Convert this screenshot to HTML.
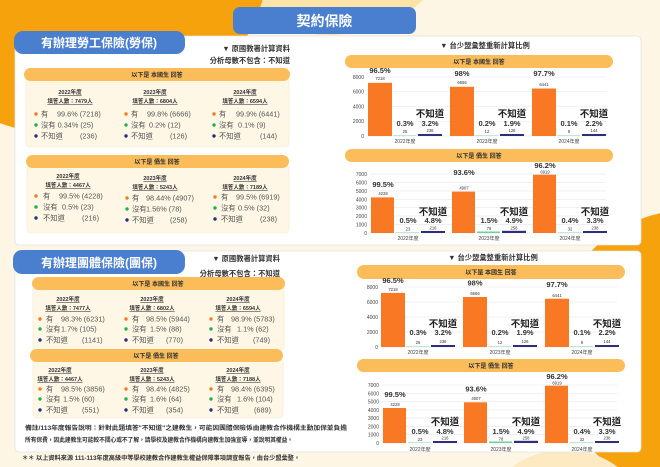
<!DOCTYPE html>
<html><head><meta charset="utf-8"><style>
html,body{margin:0;padding:0;background:#fdf6e4;width:660px;height:467px;overflow:hidden;}
svg{display:block;vertical-align:top;font-family:"Liberation Sans","Noto Sans CJK TC",sans-serif;}
.h{font-size:6px;font-weight:bold;fill:#333;text-anchor:middle}
.yr{font-size:5.5px;font-weight:bold;fill:#333;text-anchor:middle;text-decoration:underline}
.r{font-size:7.3px;fill:#555}
.ax{font-size:5px;fill:#444;text-anchor:end}
.pc{font-size:7.5px;font-weight:bold;fill:#333;text-anchor:middle}
.bd{font-size:9.5px;font-weight:bold;fill:#222;text-anchor:middle}
.ct{font-size:4.2px;fill:#333;text-anchor:middle}
.xl{font-size:5px;fill:#444;text-anchor:middle}
.o{fill:#f97824}.g{fill:#bfe8cf}.n{fill:#2e2f7c}
.gl{stroke:#e6e6ec;stroke-width:0.6}
</style></head><body>
<svg width="660" height="467" viewBox="0 0 660 467" xmlns="http://www.w3.org/2000/svg">
<rect width="660" height="467" fill="#fdf6e4"/>
<path d="M237,0 A120,95 0 0 0 423,0 Z" fill="#fde3a8"/>
<path d="M0,0 L262.6,0 A200,185 0 0 1 0,123.3 Z" fill="#f5a20c"/>
<path d="M660,213.3 A140,140 0 0 0 613.1,467 L660,467 Z" fill="#f5a20c"/>
<path d="M512.4,467 A70,50 0 0 1 617.6,467 Z" fill="#fde9c2"/>

<rect x="15" y="36" width="626" height="209" rx="4" fill="#fff" stroke="#e3e3e3" stroke-width="0.8"/>
<rect x="15" y="251" width="626" height="201" rx="4" fill="#fff" stroke="#e3e3e3" stroke-width="0.8"/>

<rect x="233" y="7" width="183" height="27" rx="7" fill="#4a7fd0"/>
<text x="324.5" y="26" font-size="14" font-weight="bold" fill="#fff" text-anchor="middle">契約保險</text>

<rect x="14" y="31" width="171" height="23" rx="9" fill="#4a7fd0"/>
<text x="99" y="47" font-size="12" font-weight="bold" fill="#fff" text-anchor="middle">有辦理勞工保險(勞保)</text>
<text x="290" y="51" font-size="7.3" font-weight="bold" fill="#333" text-anchor="end">▼ 原國教署計算資料</text>
<text x="290" y="63" font-size="7.3" font-weight="bold" fill="#333" text-anchor="end">分析母數不包含：不知道</text>

<rect x="26" y="78" width="263" height="69" rx="4" fill="#fef7e6" stroke="#f6ead0" stroke-width="0.6"/>
<rect x="24" y="68" width="266" height="13" rx="6.5" fill="#fbbd5a"/>
<text x="157" y="77" class="h">以下是 本國生 回答</text>
<g>
<text x="70" y="94" class="yr">2022年度</text><text x="70" y="103" class="yr">填答人數：7479人</text>
<text x="155" y="94" class="yr">2023年度</text><text x="155" y="103" class="yr">填答人數：6804人</text>
<text x="245" y="94" class="yr">2024年度</text><text x="245" y="103" class="yr">填答人數：6594人</text>
</g>
<g>
<circle cx="36" cy="114" r="1.7" fill="#f47b20"/><text x="41" y="116.5" class="r">有</text><text x="57" y="116.5" class="r">99.6% (7218)</text>
<circle cx="36" cy="125" r="1.7" fill="#22b14c"/><text x="41" y="127.5" class="r">沒有 0.34% (25)</text>
<circle cx="36" cy="136" r="1.7" fill="#2b2d7c"/><text x="41" y="138.5" class="r">不知道</text><text x="80" y="138.5" class="r">(236)</text>
<circle cx="126" cy="114" r="1.7" fill="#f47b20"/><text x="131" y="116.5" class="r">有</text><text x="147" y="116.5" class="r">99.8% (6666)</text>
<circle cx="126" cy="125" r="1.7" fill="#22b14c"/><text x="131" y="127.5" class="r">沒有</text><text x="149" y="127.5" class="r">0.2% (12)</text>
<circle cx="126" cy="136" r="1.7" fill="#2b2d7c"/><text x="131" y="138.5" class="r">不知道</text><text x="170" y="138.5" class="r">(126)</text>
<circle cx="214" cy="114" r="1.7" fill="#f47b20"/><text x="219" y="116.5" class="r">有</text><text x="236" y="116.5" class="r">99.9% (6441)</text>
<circle cx="214" cy="125" r="1.7" fill="#22b14c"/><text x="219" y="127.5" class="r">沒有</text><text x="238" y="127.5" class="r">0.1% (9)</text>
<circle cx="214" cy="136" r="1.7" fill="#2b2d7c"/><text x="219" y="138.5" class="r">不知道</text><text x="260" y="138.5" class="r">(144)</text>
</g>

<rect x="27" y="165" width="262" height="68" rx="4" fill="#fef7e6" stroke="#f6ead0" stroke-width="0.6"/>
<rect x="26" y="155" width="263" height="13" rx="6.5" fill="#fbbd5a"/>
<text x="157" y="164" class="h">以下是 僑生 回答</text>
<text x="68" y="178" class="yr">2022年度</text><text x="68" y="187" class="yr">填答人數：4467人</text>
<text x="155" y="180" class="yr">2023年度</text><text x="155" y="189" class="yr">填答人數：5243人</text>
<text x="245" y="180" class="yr">2024年度</text><text x="245" y="189" class="yr">填答人數：7189人</text>
<g>
<circle cx="36" cy="196" r="1.7" fill="#f47b20"/><text x="43" y="198.5" class="r">有</text><text x="59" y="198.5" class="r">99.5% (4228)</text>
<circle cx="36" cy="207" r="1.7" fill="#22b14c"/><text x="43" y="209.5" class="r">沒有</text><text x="62" y="209.5" class="r">0.5% (23)</text>
<circle cx="36" cy="218" r="1.7" fill="#2b2d7c"/><text x="43" y="220.5" class="r">不知道</text><text x="82" y="220.5" class="r">(216)</text>
<circle cx="127" cy="198" r="1.7" fill="#f47b20"/><text x="132" y="200.5" class="r">有</text><text x="146" y="200.5" class="r">98.44% (4907)</text>
<circle cx="127" cy="209" r="1.7" fill="#22b14c"/><text x="132" y="211.5" class="r">沒有</text><text x="146" y="211.5" class="r">1.56% (78)</text>
<circle cx="127" cy="220" r="1.7" fill="#2b2d7c"/><text x="132" y="222.5" class="r">不知道</text><text x="170" y="222.5" class="r">(258)</text>
<circle cx="215" cy="197" r="1.7" fill="#f47b20"/><text x="221" y="199.5" class="r">有</text><text x="236" y="199.5" class="r">99.5% (6919)</text>
<circle cx="215" cy="208" r="1.7" fill="#22b14c"/><text x="221" y="210.5" class="r">沒有</text><text x="238" y="210.5" class="r">0.5% (32)</text>
<circle cx="215" cy="219" r="1.7" fill="#2b2d7c"/><text x="221" y="221.5" class="r">不知道</text><text x="260" y="221.5" class="r">(238)</text>
</g>

<text x="485" y="48" font-size="7.3" font-weight="bold" fill="#333" text-anchor="middle">▼ 台少盟彙整重新計算比例</text>
<rect x="345" y="55" width="268" height="13" rx="6.5" fill="#fbbd5a"/>
<text x="479" y="64" class="h">以下是 本國生 回答</text>
<line class="gl" x1="368" y1="77" x2="606" y2="77"/><line class="gl" x1="368" y1="91.75" x2="606" y2="91.75"/><line class="gl" x1="368" y1="106.5" x2="606" y2="106.5"/><line class="gl" x1="368" y1="121.25" x2="606" y2="121.25"/><line class="gl" x1="368" y1="136" x2="606" y2="136"/>
<text x="364" y="79" class="ax">8000</text><text x="364" y="93.5" class="ax">6000</text><text x="364" y="108.5" class="ax">4000</text><text x="364" y="123" class="ax">2000</text><text x="364" y="138" class="ax">0</text>
<g transform="translate(368,0)">
<rect class="o" x="0" y="82.8" width="24" height="53.2"/><rect class="g" x="25" y="135" width="23" height="1"/><rect class="n" x="50" y="134" width="24" height="2"/>
<text class="pc" x="12" y="73">96.5%</text><text class="ct" x="12" y="80">7218</text>
<text class="pc" x="37" y="126">0.3%</text><text class="bd" x="62" y="117">不知道</text><text class="pc" x="62" y="126">3.2%</text>
<text class="ct" x="37" y="133">25</text><text class="ct" x="62" y="132">236</text><text class="xl" x="37" y="143">2022年度</text></g>
<g transform="translate(450,0)">
<rect class="o" x="0" y="86.8" width="24" height="49.2"/><rect class="g" x="25" y="135" width="23" height="1"/><rect class="n" x="50" y="134" width="24" height="2"/>
<text class="pc" x="12" y="76">98%</text><text class="ct" x="12" y="84">6666</text>
<text class="pc" x="37" y="126">0.2%</text><text class="bd" x="62" y="117">不知道</text><text class="pc" x="62" y="126">1.9%</text>
<text class="ct" x="37" y="133">12</text><text class="ct" x="62" y="132">126</text><text class="xl" x="37" y="143">2023年度</text></g>
<g transform="translate(532,0)">
<rect class="o" x="0" y="88.5" width="24" height="47.5"/><rect class="g" x="25" y="135" width="23" height="1"/><rect class="n" x="50" y="134" width="24" height="2"/>
<text class="pc" x="12" y="76">97.7%</text><text class="ct" x="12" y="86">6441</text>
<text class="pc" x="37" y="126">0.1%</text><text class="bd" x="62" y="117">不知道</text><text class="pc" x="62" y="126">2.2%</text>
<text class="ct" x="37" y="133">9</text><text class="ct" x="62" y="132">144</text><text class="xl" x="37" y="143">2024年度</text></g>

<rect x="345" y="149" width="268" height="13" rx="6.5" fill="#fbbd5a"/>
<text x="479" y="158" class="h">以下是 僑生 回答</text>
<line class="gl" x1="370" y1="174" x2="606" y2="174"/><line class="gl" x1="370" y1="182.4" x2="606" y2="182.4"/><line class="gl" x1="370" y1="190.9" x2="606" y2="190.9"/><line class="gl" x1="370" y1="199.3" x2="606" y2="199.3"/><line class="gl" x1="370" y1="207.7" x2="606" y2="207.7"/><line class="gl" x1="370" y1="216.1" x2="606" y2="216.1"/><line class="gl" x1="370" y1="224.6" x2="606" y2="224.6"/><line class="gl" x1="370" y1="233" x2="606" y2="233"/>
<text x="367" y="176" class="ax">7000</text><text x="367" y="184.4" class="ax">6000</text><text x="367" y="192.9" class="ax">5000</text><text x="367" y="201.3" class="ax">4000</text><text x="367" y="209.7" class="ax">3000</text><text x="367" y="218.1" class="ax">2000</text><text x="367" y="226.6" class="ax">1000</text><text x="367" y="235" class="ax">0</text>
<g transform="translate(371,0)">
<rect class="o" x="0" y="197.4" width="23" height="35.6"/><rect class="g" x="25" y="232" width="23" height="1"/><rect class="n" x="50" y="231" width="24" height="2"/>
<text class="pc" x="12" y="187">99.5%</text><text class="ct" x="12" y="195">4228</text>
<text class="pc" x="37" y="223">0.5%</text><text class="bd" x="62" y="215">不知道</text><text class="pc" x="62" y="223">4.8%</text>
<text class="ct" x="37" y="230.5">23</text><text class="ct" x="62" y="229.5">216</text><text class="xl" x="37" y="240">2022年度</text></g>
<g transform="translate(452,0)">
<rect class="o" x="0" y="191.6" width="23" height="41.4"/><rect fill="#6fd09a" x="25" y="231.5" width="23" height="1.5"/><rect class="n" x="50" y="230.8" width="24" height="2.2"/>
<text class="pc" x="12" y="175">93.6%</text><text class="ct" x="12" y="189.5">4907</text>
<text class="pc" x="37" y="223">1.5%</text><text class="bd" x="62" y="215">不知道</text><text class="pc" x="62" y="223">4.9%</text>
<text class="ct" x="37" y="230">78</text><text class="ct" x="62" y="229.5">258</text><text class="xl" x="37" y="240">2023年度</text></g>
<g transform="translate(533,0)">
<rect class="o" x="0" y="174.7" width="23" height="58.3"/><rect class="g" x="25" y="232" width="23" height="1"/><rect class="n" x="50" y="231" width="24" height="2"/>
<text class="pc" x="12" y="168">96.2%</text><text class="ct" x="12" y="173.5">6919</text>
<text class="pc" x="37" y="223">0.4%</text><text class="bd" x="62" y="215">不知道</text><text class="pc" x="62" y="223">3.3%</text>
<text class="ct" x="37" y="230.5">32</text><text class="ct" x="62" y="229.5">238</text><text class="xl" x="37" y="240">2024年度</text></g>

<rect x="13" y="250" width="172" height="24" rx="9" fill="#4a7fd0"/>
<text x="99" y="267" font-size="12" font-weight="bold" fill="#fff" text-anchor="middle">有辦理團體保險(團保)</text>
<text x="280" y="261" font-size="7.3" font-weight="bold" fill="#333" text-anchor="end">▼ 原國教署計算資料</text>
<text x="280" y="276" font-size="7.3" font-weight="bold" fill="#333" text-anchor="end">分析母數不包含：不知道</text>

<rect x="33" y="286" width="251" height="65" rx="4" fill="#fef7e6" stroke="#f6ead0" stroke-width="0.6"/>
<rect x="32" y="277" width="253" height="13" rx="6.5" fill="#fbbd5a"/>
<text x="158" y="286" class="h">以下是 本國生 回答</text>
<text x="68" y="301" class="yr">2022年度</text><text x="68" y="310" class="yr">填答人數：7477人</text>
<text x="152" y="301" class="yr">2023年度</text><text x="152" y="310" class="yr">填答人數：6802人</text>
<text x="238" y="301" class="yr">2024年度</text><text x="238" y="310" class="yr">填答人數：6594人</text>
<g>
<circle cx="40" cy="319" r="1.7" fill="#f47b20"/><text x="46" y="321.5" class="r">有</text><text x="61" y="321.5" class="r">98.3% (6231)</text>
<circle cx="40" cy="329" r="1.7" fill="#22b14c"/><text x="46" y="331.5" class="r">沒有</text><text x="61" y="331.5" class="r">1.7% (105)</text>
<circle cx="40" cy="340" r="1.7" fill="#2b2d7c"/><text x="46" y="342.5" class="r">不知道</text><text x="82" y="342.5" class="r">(1141)</text>
<circle cx="126" cy="319" r="1.7" fill="#f47b20"/><text x="132" y="321.5" class="r">有</text><text x="146" y="321.5" class="r">98.5% (5944)</text>
<circle cx="126" cy="329" r="1.7" fill="#22b14c"/><text x="132" y="331.5" class="r">沒有</text><text x="150" y="331.5" class="r">1.5% (88)</text>
<circle cx="126" cy="340" r="1.7" fill="#2b2d7c"/><text x="132" y="342.5" class="r">不知道</text><text x="166" y="342.5" class="r">(770)</text>
<circle cx="211" cy="319" r="1.7" fill="#f47b20"/><text x="217" y="321.5" class="r">有</text><text x="231" y="321.5" class="r">98.9% (5783)</text>
<circle cx="211" cy="329" r="1.7" fill="#22b14c"/><text x="217" y="331.5" class="r">沒有</text><text x="237" y="331.5" class="r">1.1% (62)</text>
<circle cx="211" cy="340" r="1.7" fill="#2b2d7c"/><text x="217" y="342.5" class="r">不知道</text><text x="253" y="342.5" class="r">(749)</text>
</g>

<rect x="33" y="358" width="250" height="60" rx="4" fill="#fef7e6" stroke="#f6ead0" stroke-width="0.6"/>
<rect x="30" y="349" width="253" height="13" rx="6.5" fill="#fbbd5a"/>
<text x="156" y="358" class="h">以下是 僑生 回答</text>
<text x="60" y="372" class="yr">2022年度</text><text x="60" y="381" class="yr">填答人數：4467人</text>
<text x="152" y="372" class="yr">2023年度</text><text x="152" y="381" class="yr">填答人數：5243人</text>
<text x="238" y="372" class="yr">2024年度</text><text x="238" y="381" class="yr">填答人數：7188人</text>
<g>
<circle cx="40" cy="389" r="1.7" fill="#f47b20"/><text x="46" y="391.5" class="r">有</text><text x="61" y="391.5" class="r">98.5% (3856)</text>
<circle cx="40" cy="399" r="1.7" fill="#22b14c"/><text x="46" y="401.5" class="r">沒有</text><text x="63" y="401.5" class="r">1.5% (60)</text>
<circle cx="40" cy="410" r="1.7" fill="#2b2d7c"/><text x="46" y="412.5" class="r">不知道</text><text x="82" y="412.5" class="r">(551)</text>
<circle cx="126" cy="389" r="1.7" fill="#f47b20"/><text x="132" y="391.5" class="r">有</text><text x="146" y="391.5" class="r">98.4% (4825)</text>
<circle cx="126" cy="399" r="1.7" fill="#22b14c"/><text x="132" y="401.5" class="r">沒有</text><text x="150" y="401.5" class="r">1.6% (64)</text>
<circle cx="126" cy="410" r="1.7" fill="#2b2d7c"/><text x="132" y="412.5" class="r">不知道</text><text x="166" y="412.5" class="r">(354)</text>
<circle cx="211" cy="389" r="1.7" fill="#f47b20"/><text x="217" y="391.5" class="r">有</text><text x="231" y="391.5" class="r">98.4% (6395)</text>
<circle cx="211" cy="399" r="1.7" fill="#22b14c"/><text x="217" y="401.5" class="r">沒有</text><text x="237" y="401.5" class="r">1.6% (104)</text>
<circle cx="211" cy="410" r="1.7" fill="#2b2d7c"/><text x="217" y="412.5" class="r">不知道</text><text x="254" y="412.5" class="r">(689)</text>
</g>

<text x="25" y="430" font-size="6.2" font-weight="bold" fill="#333" textLength="322" lengthAdjust="spacingAndGlyphs">備註/113年度報告說明：針對此題填答"不知道"之建教生，可能因團體保險係由建教合作機構主動加保並負擔</text>
<text x="25" y="442" font-size="6.2" font-weight="bold" fill="#333" textLength="268" lengthAdjust="spacingAndGlyphs">所有保費，因此建教生可能較不關心或不了解，請學校及建教合作機構向建教生加強宣導，並說明其權益。</text>
<text x="22" y="460" font-size="6.2" font-weight="bold" fill="#333" textLength="278" lengthAdjust="spacingAndGlyphs">＊＊ 以上資料來源 111-113年度高級中等學校建教合作建教生權益保障事項調查報告，由台少盟彙整。</text>

<text x="493" y="260" font-size="7.3" font-weight="bold" fill="#333" text-anchor="middle">▼ 台少盟彙整重新計算比例</text>
<rect x="357" y="265" width="268" height="14" rx="7" fill="#fbbd5a"/>
<text x="491" y="274.5" class="h">以下是 本國生 回答</text>
<line class="gl" x1="381" y1="287" x2="617" y2="287"/><line class="gl" x1="381" y1="302" x2="617" y2="302"/><line class="gl" x1="381" y1="317" x2="617" y2="317"/><line class="gl" x1="381" y1="332" x2="617" y2="332"/><line class="gl" x1="381" y1="347" x2="617" y2="347"/>
<text x="378" y="289" class="ax">8000</text><text x="378" y="304" class="ax">6000</text><text x="378" y="319" class="ax">4000</text><text x="378" y="334" class="ax">2000</text><text x="378" y="349" class="ax">0</text>
<g transform="translate(381,0)">
<rect class="o" x="0" y="292.9" width="24" height="54.1"/><rect class="g" x="25" y="346" width="23" height="1"/><rect class="n" x="50" y="345" width="24" height="2"/>
<text class="pc" x="12" y="283">96.5%</text><text class="ct" x="12" y="291">7218</text>
<text class="pc" x="37" y="335">0.3%</text><text class="bd" x="62" y="327">不知道</text><text class="pc" x="62" y="335">3.2%</text>
<text class="ct" x="37" y="344">25</text><text class="ct" x="62" y="343">236</text><text class="xl" x="37" y="354">2022年度</text></g>
<g transform="translate(463,0)">
<rect class="o" x="0" y="297" width="24" height="50"/><rect class="g" x="25" y="346" width="23" height="1"/><rect class="n" x="50" y="345" width="24" height="2"/>
<text class="pc" x="12" y="285.5">98%</text><text class="ct" x="12" y="295">6666</text>
<text class="pc" x="37" y="335">0.2%</text><text class="bd" x="62" y="327">不知道</text><text class="pc" x="62" y="335">1.9%</text>
<text class="ct" x="37" y="344">12</text><text class="ct" x="62" y="343">126</text><text class="xl" x="37" y="354">2023年度</text></g>
<g transform="translate(545,0)">
<rect class="o" x="0" y="298.7" width="24" height="48.3"/><rect class="g" x="25" y="346" width="23" height="1"/><rect class="n" x="50" y="345" width="24" height="2"/>
<text class="pc" x="12" y="287">97.7%</text><text class="ct" x="12" y="297">6441</text>
<text class="pc" x="37" y="335">0.1%</text><text class="bd" x="62" y="327">不知道</text><text class="pc" x="62" y="335">2.2%</text>
<text class="ct" x="37" y="344">9</text><text class="ct" x="62" y="343">144</text><text class="xl" x="37" y="354">2024年度</text></g>

<rect x="357" y="359" width="268" height="13" rx="6.5" fill="#fbbd5a"/>
<text x="491" y="368" class="h">以下是 僑生 回答</text>
<line class="gl" x1="382" y1="385" x2="617" y2="385"/><line class="gl" x1="382" y1="393.3" x2="617" y2="393.3"/><line class="gl" x1="382" y1="401.6" x2="617" y2="401.6"/><line class="gl" x1="382" y1="409.9" x2="617" y2="409.9"/><line class="gl" x1="382" y1="418.1" x2="617" y2="418.1"/><line class="gl" x1="382" y1="426.4" x2="617" y2="426.4"/><line class="gl" x1="382" y1="434.7" x2="617" y2="434.7"/><line class="gl" x1="382" y1="443" x2="617" y2="443"/>
<text x="379" y="387" class="ax">7000</text><text x="379" y="395.3" class="ax">6000</text><text x="379" y="403.6" class="ax">5000</text><text x="379" y="411.9" class="ax">4000</text><text x="379" y="420.1" class="ax">3000</text><text x="379" y="428.4" class="ax">2000</text><text x="379" y="436.7" class="ax">1000</text><text x="379" y="445" class="ax">0</text>
<g transform="translate(383,0)">
<rect class="o" x="0" y="408" width="23" height="35"/><rect class="g" x="25" y="442" width="23" height="1"/><rect class="n" x="50" y="441" width="24" height="2"/>
<text class="pc" x="12" y="397">99.5%</text><text class="ct" x="12" y="406">4228</text>
<text class="pc" x="37" y="434">0.5%</text><text class="bd" x="62" y="425">不知道</text><text class="pc" x="62" y="434">4.8%</text>
<text class="ct" x="37" y="441">23</text><text class="ct" x="62" y="439.5">216</text><text class="xl" x="37" y="451">2022年度</text></g>
<g transform="translate(464,0)">
<rect class="o" x="0" y="402.3" width="23" height="40.7"/><rect fill="#6fd09a" x="25" y="441.5" width="23" height="1.5"/><rect class="n" x="50" y="440.8" width="24" height="2.2"/>
<text class="pc" x="12" y="391.5">93.6%</text><text class="ct" x="12" y="400">4907</text>
<text class="pc" x="37" y="434">1.5%</text><text class="bd" x="62" y="425">不知道</text><text class="pc" x="62" y="434">4.9%</text>
<text class="ct" x="37" y="440.5">78</text><text class="ct" x="62" y="439.5">258</text><text class="xl" x="37" y="451">2023年度</text></g>
<g transform="translate(545,0)">
<rect class="o" x="0" y="385.7" width="23" height="57.3"/><rect class="g" x="25" y="442" width="23" height="1"/><rect class="n" x="50" y="441" width="24" height="2"/>
<text class="pc" x="12" y="379">96.2%</text><text class="ct" x="12" y="384.5">6919</text>
<text class="pc" x="37" y="434">0.4%</text><text class="bd" x="62" y="425">不知道</text><text class="pc" x="62" y="434">3.3%</text>
<text class="ct" x="37" y="441">32</text><text class="ct" x="62" y="439.5">238</text><text class="xl" x="37" y="451">2024年度</text></g>
</svg>
</body></html>
